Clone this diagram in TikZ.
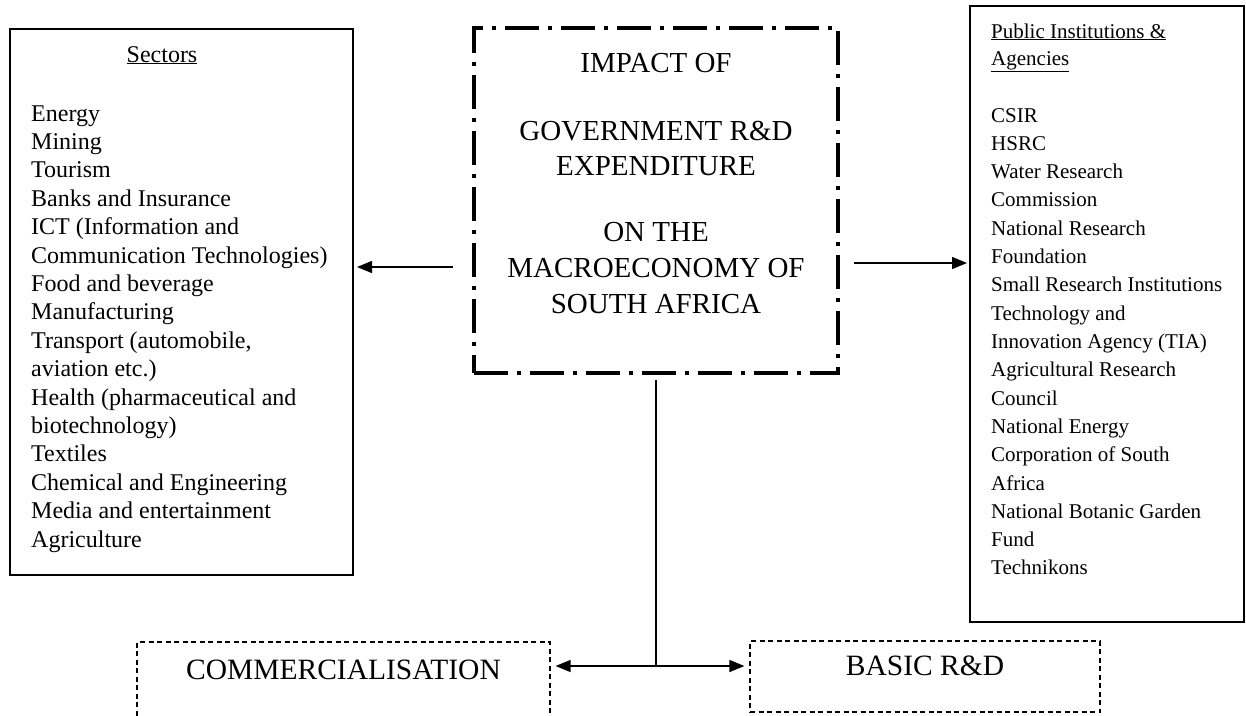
\documentclass[tikz,border=0pt]{standalone}
\usepackage{fontspec}
\setmainfont{Liberation Serif}
\usetikzlibrary{arrows.meta}
\begin{document}
\begin{tikzpicture}[x=1pt,y=-1pt,
  solidbox/.style={draw, line width=2pt, inner sep=0pt},
  dashbox/.style={draw, line width=1.2pt, dash pattern=on 5pt off 3.5pt, inner sep=0pt},
  impbox/.style={draw, line width=3.4pt, dash pattern=on 34pt off 9pt on 4pt off 9pt, inner sep=0pt},
  lefttext/.style={anchor=base west, inner sep=0pt, font=\fontsize{24}{28}\selectfont},
  righttext/.style={anchor=base west, inner sep=0pt, font=\fontsize{21}{25}\selectfont},
  ctext/.style={anchor=base, inner sep=0pt, font=\fontsize{29}{34}\selectfont},
  btext/.style={anchor=base, inner sep=0pt, font=\fontsize{29.5}{32}\selectfont},
  arr/.style={line width=1.4pt, -{Triangle[length=15pt,width=12pt]}},
  conn/.style={line width=1.4pt}]
\clip (0,0) rectangle (1246,715);
\fill[white] (0,0) rectangle (1246,715);
% boxes
\node[solidbox, minimum width=343pt, minimum height=546pt] (sectors) at (181.5,302) {};
\node[solidbox, minimum width=274pt, minimum height=616pt] (inst) at (1107,314) {};
\node[impbox, minimum width=364pt, minimum height=345pt] (imp) at (656,200.5) {};
\node[dashbox, minimum width=413pt, minimum height=100pt] (comm) at (343.5,692) {};
\node[dashbox, minimum width=350pt, minimum height=71pt] (basic) at (925,676.5) {};
% centre text
\node[ctext] (c1) at (656,72) {IMPACT OF};
\node[ctext] (c2) at (656,140) {GOVERNMENT R\&D};
\node[ctext] (c3) at (656,175) {EXPENDITURE};
\node[ctext] (c4) at (656,241) {ON THE};
\node[ctext] (c5) at (656,277) {MACROECONOMY OF};
\node[ctext] (c6) at (656,313) {SOUTH AFRICA};
% bottom texts
\node[btext] (commt) at (343.5,679) {COMMERCIALISATION};
\node[btext] (basict) at (925,675) {BASIC R\&D};
% sectors
\node[anchor=base, inner sep=0pt, font=\fontsize{24}{28}\selectfont] (sh) at (162,62) {\underline{Sectors}};
\foreach \t [count=\i from 0] in {Energy, Mining, Tourism, Banks and Insurance, ICT (Information and, Communication Technologies), Food and beverage, Manufacturing, {Transport (automobile,}, aviation etc.), Health (pharmaceutical and, biotechnology), Textiles, Chemical and Engineering, Media and entertainment, Agriculture}
  \node[lefttext] (s\i) at (31,121+\i*28.4) {\t};
% institutions
\node[righttext] (ih1) at (991,38) {\underline{Public Institutions \&}};
\node[righttext] (ih2) at (991,65) {\underline{Agencies}};
\foreach \t [count=\i from 0] in {CSIR, HSRC, Water Research, Commission, National Research, Foundation, Small Research Institutions, Technology and, Innovation Agency (TIA), Agricultural Research, Council, National Energy, Corporation of South, Africa, National Botanic Garden, Fund, Technikons}
  \node[righttext] (r\i) at (991,122+\i*28.31) {\t};
% connectors
\draw[arr, shorten <=19pt, shorten >=3pt] (imp.west |- 0,267) -- (sectors.east |- 0,267);
\draw[arr, shorten <=14pt, shorten >=2pt] (imp.east |- 0,263) -- (inst.west |- 0,263);
\coordinate (j) at (656,666);
\draw[conn, shorten <=5pt] (imp.south) -- (j);
\draw[arr, shorten >=5pt] (j) -- (comm.east |- j);
\draw[arr, shorten >=5pt] (j) -- (basic.west |- j);
\end{tikzpicture}
\end{document}
